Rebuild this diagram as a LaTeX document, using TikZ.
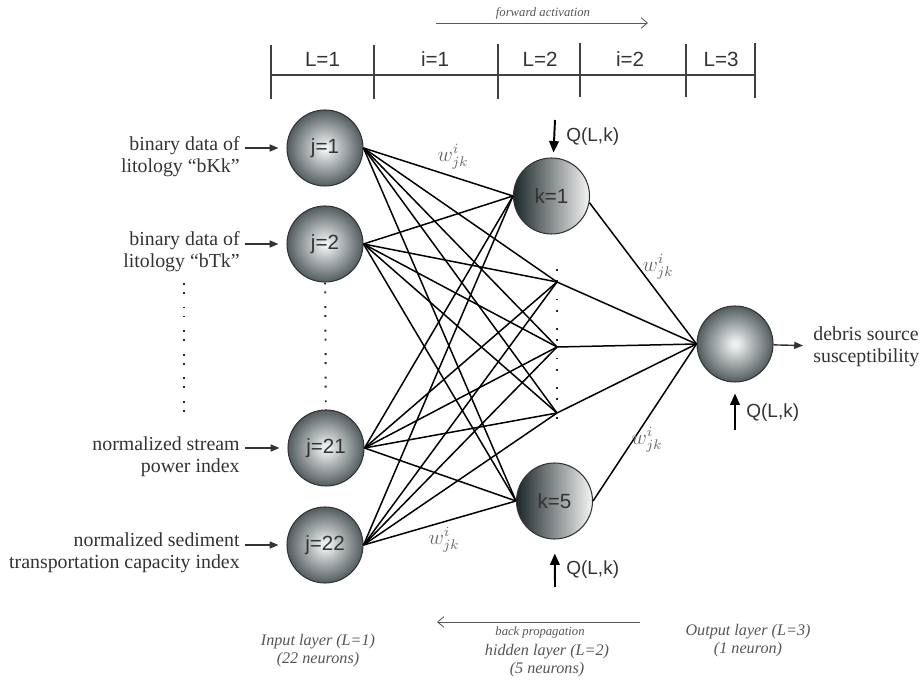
\documentclass[tikz,border=0pt]{standalone}
\usepackage{fontspec}
\setmainfont{Liberation Serif}
\setsansfont{Liberation Sans}
\usetikzlibrary{arrows.meta}

\definecolor{ballhi}{HTML}{EBEFEF}
\definecolor{balllo}{HTML}{525C5F}
\definecolor{hidlo}{HTML}{1B2729}
\definecolor{hidhi}{HTML}{F5F5F5}
\definecolor{txtgray}{HTML}{333333}
\definecolor{capgray}{HTML}{555555}
\pgfdeclareradialshading{ballshade}{\pgfpoint{0bp}{0bp}}{color(0bp)=(ballhi); color(2bp)=(ballhi); color(25bp)=(balllo); color(50bp)=(balllo)}

\begin{document}
\begin{tikzpicture}[
    input node/.style={circle,draw=black!80,line width=0.6pt,shading=ballshade,minimum size=1.52cm,inner sep=0pt,font=\sffamily\fontsize{11.7}{14}\selectfont,text=txtgray},
    hidden node/.style={circle,draw=black!80,line width=0.6pt,left color=hidlo,right color=hidhi,minimum size=1.52cm,inner sep=0pt,font=\sffamily\fontsize{11.7}{14}\selectfont,text=txtgray},
    side label/.style={inner sep=0pt,align=right,text=txtgray,font=\fontsize{11.3}{12.5}\selectfont},
    cap label/.style={inner sep=0pt,align=center,text=capgray,font=\itshape\fontsize{9.2}{10.3}\selectfont},
    prop label/.style={inner sep=0pt,text=capgray,font=\itshape\fontsize{7.2}{9}\selectfont},
    scale label/.style={inner sep=0pt,text=txtgray,font=\sffamily\fontsize{11.7}{14}\selectfont},
    q label/.style={inner sep=0pt,anchor=west,text=txtgray,font=\sffamily\fontsize{10.8}{13}\selectfont},
    w label/.style={inner sep=0pt,text=black!60,font=\fontsize{12}{14}\selectfont},
    in arrow/.style={draw=txtgray,line width=0.8pt,-{Triangle[length=5pt,width=4pt]}},
    q arrow/.style={draw=black,line width=1.1pt,-{Triangle[length=6.5pt,width=5.5pt]}},
    prop arrow/.style={draw=black!65,line width=0.5pt,-{Straight Barb[length=3.5pt,width=6pt]}},
    in dots/.style={draw=black!85,line width=1.1pt,dash pattern=on 1.1pt off 4pt on 1.1pt off 7.2pt},
    hid dots/.style={draw=black!85,line width=1.1pt,dash pattern=on 1.1pt off 5.2pt on 1.1pt off 9.4pt}
  ]
  \useasboundingbox (0,0) rectangle (18.42,13.8);

  % layer scale
  \draw[draw=black!75,line width=0.6pt] (5.42,12.30) -- (15.10,12.30);
  \draw[draw=black!75,line width=0.6pt] (5.42,12.90) -- (5.42,11.82);
  \draw[draw=black!75,line width=0.6pt] (7.48,12.90) -- (7.48,11.82);
  \draw[draw=black!75,line width=0.6pt] (9.96,12.92) -- (9.96,11.82);
  \draw[draw=black!75,line width=0.6pt] (11.60,12.94) -- (11.60,11.86);
  \draw[draw=black!75,line width=0.6pt] (13.72,12.92) -- (13.72,11.86);
  \draw[draw=black!75,line width=0.6pt] (15.10,12.94) -- (15.10,11.84);
  \node[scale label] (s1) at (6.45,12.62) {L=1};
  \node[scale label] (s2) at (8.70,12.62) {i=1};
  \node[scale label] (s3) at (10.80,12.62) {L=2};
  \node[scale label] (s4) at (12.60,12.62) {i=2};
  \node[scale label] (s5) at (14.42,12.62) {L=3};

  \coordinate (fa1) at (8.72,13.34);
  \coordinate (fa2) at (12.96,13.34);
  \draw[prop arrow] (fa1) -- (fa2);
  \node[prop label] (fwd) at (10.86,13.54) {forward activation};

  % neurons
  \node[input node] at (6.50,10.84) (j1) {j=1};
  \node[input node] at (6.50,8.92) (j2) {j=2};
  \node[input node] at (6.52,4.84) (j21) {j=21};
  \node[input node] at (6.50,2.90) (j22) {j=22};

  \node[hidden node] at (11.03,9.88) (k1) {k=1};
  \coordinate (k2) at (11.14,8.16);
  \coordinate (k3) at (11.14,6.86);
  \coordinate (k4) at (11.14,5.54);
  \node[hidden node] at (11.09,3.78) (k5) {k=5};

  \node[input node] at (14.70,6.92) (out) {};

  \draw[in dots] (j2) -- (j21);
  \coordinate (hd1) at (11.14,8.42);
  \coordinate (hd2) at (11.14,5.26);
  \draw[hid dots] (hd1) -- (hd2);

  \path[draw=black,line width=0.85pt]
  (j1.east) edge (k1.west)
  (j1.east) edge (k2)
  (j1.east) edge (k3)
  (j1.east) edge (k4)
  (j1.east) edge (k5.west)
  (j2.east) edge (k1.west)
  (j2.east) edge (k2)
  (j2.east) edge (k3)
  (j2.east) edge (k4)
  (j2.east) edge (k5.west)
  (j21.east) edge (k1.west)
  (j21.east) edge (k2)
  (j21.east) edge (k3)
  (j21.east) edge (k4)
  (j21.east) edge (k5.west)
  (j22.east) edge (k1.west)
  (j22.east) edge (k2)
  (j22.east) edge (k3)
  (j22.east) edge (k4)
  (j22.east) edge (k5.west)
  (k1.-10) edge (out.west)
  (k2) edge (out.west)
  (k3) edge (out.west)
  (k4) edge (out.west)
  (k5.east) edge (out.west);

  \node[w label] (w1) at (9.06,10.66) {$w^{i}_{jk}$};
  \node[w label] (w2) at (8.88,3.00) {$w^{i}_{jk}$};
  \node[w label] (w3) at (13.16,8.46) {$w^{i}_{jk}$};
  \node[w label] (w4) at (12.94,5.00) {$w^{i}_{jk}$};

  % inputs
  \node[side label,anchor=north east] (l1) at (4.80,11.08) {binary data of\\litology “bKk”};
  \node[side label,anchor=north east] (l2) at (4.80,9.18) {binary data of\\litology “bTk”};
  \node[side label,anchor=north east] (l21) at (4.80,5.08) {normalized stream\\power index};
  \node[side label,anchor=north east] (l22) at (4.80,3.16) {normalized sediment\\transportation capacity index};
  \draw[in arrow,shorten <=0.1cm,shorten >=0.16cm] (l1.east |- j1) -- (j1);
  \draw[in arrow,shorten <=0.1cm,shorten >=0.16cm] (l2.east |- j2) -- (j2);
  \draw[in arrow,shorten <=0.1cm,shorten >=0.16cm] (l21.east |- j21) -- (j21);
  \draw[in arrow,shorten <=0.1cm,shorten >=0.16cm] (l22.east |- j22) -- (j22);
  \coordinate (ld1) at (3.68,8.14);
  \coordinate (ld2) at (3.68,5.52);
  \draw[in dots] (ld1) -- (ld2);

  % output
  \node[side label,align=left,anchor=west] (res) at (16.26,6.86) {debris source\\susceptibility};
  \draw[in arrow,shorten >=0.2cm] (out) -- (res);

  % Q(L,k)
  \coordinate (qtop) at (11.10,11.40);
  \coordinate (qbot) at (11.10,2.06);
  \coordinate (qout) at (14.70,5.20);
  \draw[q arrow,shorten >=0.1cm] (qtop) -- (k1);
  \draw[q arrow,shorten >=0.28cm] (qbot) -- (k5);
  \draw[q arrow,shorten >=0.22cm] (qout) -- (out);
  \node[q label] (ql1) at (11.32,11.06) {Q(L,k)};
  \node[q label] (ql5) at (11.32,2.40) {Q(L,k)};
  \node[q label] (qlout) at (14.92,5.54) {Q(L,k)};

  % captions
  \coordinate (ba1) at (12.80,1.36);
  \coordinate (ba2) at (8.74,1.36);
  \draw[prop arrow] (ba1) -- (ba2);
  \node[prop label] (bwd) at (10.80,1.16) {back propagation};
  \node[cap label] (c1) at (6.36,0.78) {Input layer (L=1)\\(22 neurons)};
  \node[cap label] (c2) at (10.94,0.58) {hidden layer (L=2)\\(5 neurons)};
  \node[cap label] (c3) at (14.96,0.98) {Output layer (L=3)\\(1 neuron)};
\end{tikzpicture}
\end{document}
